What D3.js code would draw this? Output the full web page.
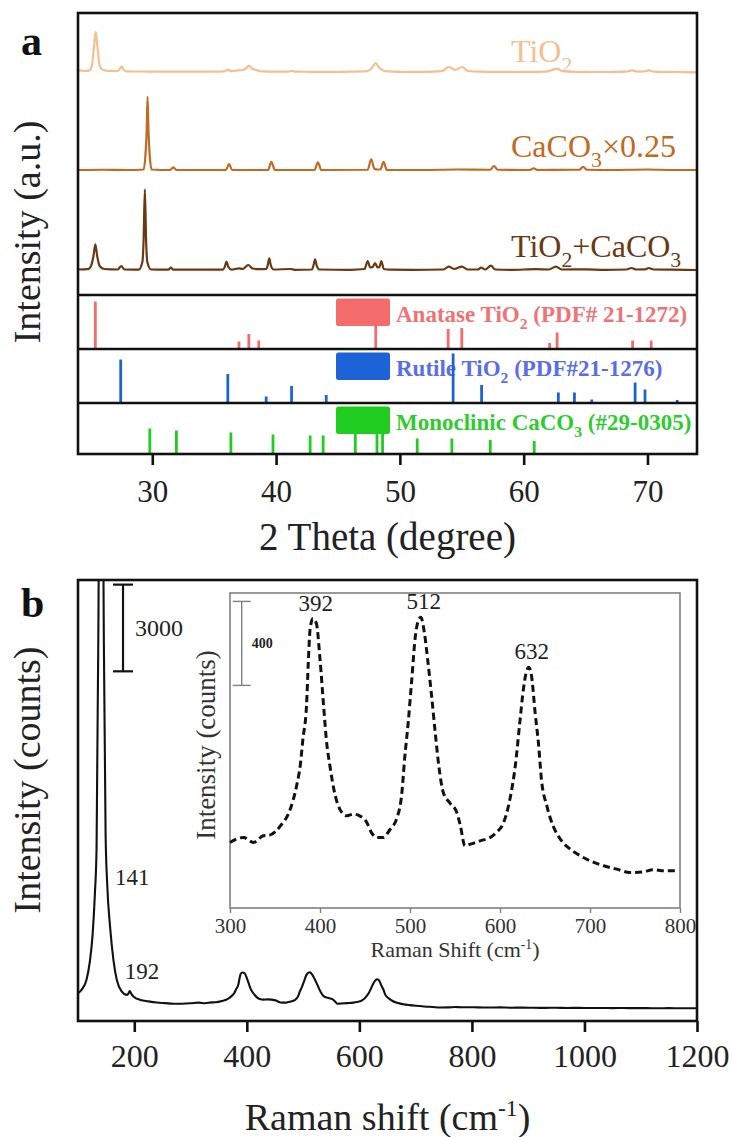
<!DOCTYPE html>
<html>
<head>
<meta charset="utf-8">
<script src="https://cdn.jsdelivr.net/npm/d3@7"></script>
<style>
html,body{margin:0;padding:0;background:#fff}
svg{display:block}
</style>
</head>
<body>
<div id="chart"></div>
<script>
// ---------------- data ----------------
// XRD patterns: [2θ (deg), intensity (a.u.)]
const tio2Pattern = [
  [24.0,1.6],[24.5,1.2],[24.9,1.4],[25.12,6],[25.28,24],[25.43,40],[25.58,24],[25.74,7],[26.0,2.2],[26.5,1.0],
  [27.2,0.9],[27.38,3],[27.52,5.7],[27.66,3],[27.9,0.7],[29,0.5],[31,0.4],[33,0.3],[35,0.3],[35.8,0.6],
  [36.1,2.3],[36.4,0.8],[36.95,1.7],[37.3,1.8],[37.6,4],[37.82,6.3],[38.05,3.5],[38.5,1.7],[38.8,0.6],[40,0.3],
  [41.0,0.4],[41.3,1],[41.6,0.3],[43,0.2],[45,0.2],[47.2,0.6],[47.7,3.5],[48.03,9],[48.35,4],[48.8,0.8],
  [50,0.2],[52,0.1],[53.4,0.8],[53.95,5],[54.45,2.2],[55.03,5],[55.5,1],[56.5,0.3],[58,0.1],[60,0.1],
  [61.8,0.4],[62.1,1.2],[62.7,3.3],[63.1,0.8],[64,0.1],[66,0],[68.3,0.3],[68.75,1.7],[69.2,0.4],[69.7,0.5],
  [70.1,1.7],[70.5,0.3],[72,0],[74,-0.3]
];
const caco3Raw = [
  [24,0],[26,1],[28,0],[29.3,2],[29.45,60],[29.55,160],[29.62,293],[29.69,160],[29.79,60],[29.95,2],
  [31.45,0],[31.7,11],[31.95,0],[35.95,0],[36.2,24],[36.45,0],[39.35,0],[39.62,33],[39.9,0],[43.1,0],
  [43.38,31],[43.65,0],[47.4,1],[47.68,43],[47.95,4],[48.2,2],[48.45,3],[48.68,33],[48.95,0],[52,0],
  [54.5,2],[57.3,1],[57.6,16],[57.9,1],[60.5,0],[60.8,7],[61.1,0],[64.5,1],[64.8,13],[65.1,1],
  [67,0],[70,2],[72,0],[74,0]
];
const caco3Factor = 0.25;
const mixPattern = [
  [24,0.5],[24.8,0.8],[25.05,4],[25.25,14],[25.4,25.7],[25.55,14],[25.75,4],[26.1,1],[27.2,0.5],[27.5,4],
  [27.75,0.5],[28.9,0.3],[29.2,8],[29.3,30],[29.4,80.7],[29.5,30],[29.6,8],[29.9,0.5],[31.3,0.3],[31.5,2.3],
  [31.7,0.3],[35.7,0.3],[35.85,3],[36.0,8.3],[36.15,3],[36.4,0.4],[37.0,1.7],[37.3,1],[37.75,5],[38.1,1.5],
  [38.6,0.8],[39.2,1],[39.33,5],[39.45,11.7],[39.57,5],[39.8,0.5],[41.2,1],[41.5,0.2],[42.9,0.5],[43.02,4.5],
  [43.15,10.7],[43.28,4.5],[43.5,0.5],[46,0.2],[47.15,1],[47.4,9],[47.6,2.5],[47.8,3],[48.0,7],[48.2,2.5],
  [48.35,3],[48.5,9],[48.7,1],[49.2,0.3],[51,0.2],[53.5,0.5],[53.95,3.3],[54.4,1],[55.0,3.3],[55.5,0.5],
  [56.3,0.5],[56.55,2.3],[56.9,0.5],[57.35,4.3],[57.7,0.5],[59,0.2],[61,0.8],[62.0,0.5],[62.6,3.3],[63.1,0.5],
  [65,0.6],[66.5,0.2],[68.3,0.5],[68.7,2],[69.1,0.5],[69.8,0.6],[70.1,2],[70.5,0.5],[72,0.3],[74,0]
];

// standard reference cards: [2θ, relative intensity]
const anataseRef = [[25.4,95],[37.0,15],[37.8,30],[38.6,17],[48.05,70],[53.9,40],[55.0,42],[62.1,12],[62.7,33],[68.8,17],[70.3,17]];
const rutileRef  = [[27.45,87],[36.1,58],[39.2,13],[41.25,34],[44.05,16],[54.3,99],[56.6,36],[62.8,21],[64.1,21],[65.5,7],[69.0,41],[69.8,27],[72.4,6]];
const calciteRef = [[29.8,51],[31.95,47],[36.35,43],[39.75,39],[42.75,37],[43.8,37],[46.4,60],[48.15,60],[48.6,60],[51.4,31],[54.2,31],[57.3,28],[60.85,26]];

const xrdDomain = [24, 74];
const xrdTicks = [30, 40, 50, 60, 70];

// Raman spectrum: [shift (cm-1), counts]
const ramanSpectrum = [
  [100,958],[106,1073],[115,1420],[121,2050],[126,3000],[130,4400],[133,6000],[136,13000],[137.5,18000],[139.5,30000],
  [141,42000],[142.5,30000],[144.5,18000],[146,13000],[149,6500],[152,4700],[157,3260],[163,2110],[169,1420],[178,1014],
  [186,905],[189,930],[192,1038],[195,930],[199,841],[211,727],[225,680],[240,640],[255,618],[270,595],
  [285,598],[300,612],[315,636],[326,612],[337,644],[344,647],[356,691],[367,771],[374,882],[378,977],
  [381,1104],[385,1263],[387,1469],[389,1628],[392,1678],[396,1655],[400,1485],[404,1263],[407,1104],[411,977],
  [417,834],[422,771],[430,739],[437,747],[444,739],[452,707],[457,660],[463,636],[470,636],[478,675],
  [485,723],[491,850],[494,1009],[498,1183],[502,1390],[506,1596],[509,1665],[512,1685],[516,1610],[520,1469],
  [524,1310],[528,1136],[532,977],[537,850],[544,802],[552,755],[556,691],[561,596],[567,604],[578,620],
  [589,636],[596,660],[604,707],[611,818],[617,977],[622,1183],[626,1342],[629,1420],[632,1447],[635,1406],
  [639,1231],[643,1072],[646,914],[652,787],[659,691],[667,628],[678,580],[689,549],[700,525],[715,501],
  [730,485],[744,469],[759,472],[770,482],[782,477],[796,477],[810,470],[830,468],[850,471],[870,460],
  [890,463],[910,458],[930,455],[950,458],[970,452],[990,454],[1010,449],[1030,452],[1050,446],[1070,449],
  [1090,444],[1110,446],[1130,441],[1150,444],[1170,439],[1190,441],[1200,440]
];
const ramanDomain = [100, 1200];
const ramanCountDomain = [0, 15260];
const ramanTicks = [200, 400, 600, 800, 1000, 1200];
const insetDomain = [300, 800];
const insetCountDomain = [300, 1800];
const insetTicks = [300, 400, 500, 600, 700, 800];
const mainPeakLabels = [141, 192];
const insetPeakLabels = [392, 512, 632];
const mainScaleBar = {at: 180, top: 15100, span: 3000};
const insetScaleBar = {at: 313, top: 1760, span: 400};

// ---------------- drawing ----------------
const W = 732, H = 1137;
const FONT = "'Liberation Serif','Times New Roman',serif";

const svg = d3.select("#chart").append("svg")
  .attr("width", W).attr("height", H)
  .attr("font-family", FONT);
svg.append("rect").attr("width", W).attr("height", H).attr("fill", "#fff");

// rich text helper: parts = [{t, sub, sup}]
function richText(g, x, y, parts, size, attrs = {}) {
  const t = g.append("text").attr("x", x).attr("y", y).attr("font-size", size);
  Object.entries(attrs).forEach(([k, v]) => t.attr(k, v));
  let shift = 0;
  parts.forEach(p => {
    const s = t.append("tspan").text(p.t);
    let target = 0;
    if (p.sub) { s.attr("font-size", size * 0.68); target = size * 0.3; }
    if (p.sup) { s.attr("font-size", size * 0.62); target = -size * 0.38; }
    if (target !== shift) { s.attr("dy", target - shift); shift = target; }
  });
  return t;
}

// ===== panel a =====
const A = {left: 78, right: 697, top: 13, specBottom: 295, bandTops: [295, 349, 403], bandBottoms: [349, 403, 454]};
const xX = d3.scaleLinear().domain(xrdDomain).range([A.left, A.right]);
const yX = d3.scaleLinear().domain([0, 282]).range([A.specBottom, A.top]);

const series = [
  {data: tio2Pattern, k: 1, offset: 223, color: "#F3BF93", label: [{t:"TiO"},{t:"2",sub:true}], dyLabel: -10},
  {data: caco3Raw, k: caco3Factor, offset: 125, color: "#C06A22", label: [{t:"CaCO"},{t:"3",sub:true},{t:"×0.25"}], dyLabel: -13},
  {data: mixPattern, k: 1, offset: 25, color: "#6A3912", label: [{t:"TiO"},{t:"2",sub:true},{t:"+CaCO"},{t:"3",sub:true}], dyLabel: -13}
];
const gA = svg.append("g");
const lineX = d3.line().curve(d3.curveMonotoneX);
series.forEach(s => {
  gA.append("path")
    .attr("d", lineX(s.data.map(d => [xX(d[0]), yX(s.offset + d[1] * s.k)])))
    .attr("fill", "none").attr("stroke", s.color).attr("stroke-width", 2.2)
    .attr("stroke-linejoin", "round");
  richText(gA, 511, yX(s.offset) + s.dyLabel, s.label, 32, {fill: s.color});
});

// reference cards
const refs = [
  {data: anataseRef, color: "#F36B6B", text: "#F07272", label: [{t:"Anatase TiO"},{t:"2",sub:true},{t:" (PDF# 21-1272)"}]},
  {data: rutileRef, color: "#1D63D8", text: "#5A6EE6", label: [{t:"Rutile TiO"},{t:"2",sub:true},{t:" (PDF#21-1276)"}]},
  {data: calciteRef, color: "#1FCC1F", text: "#2FCC2F", label: [{t:"Monoclinic CaCO"},{t:"3",sub:true},{t:" (#29-0305)"}]}
];
refs.forEach((r, i) => {
  const bot = A.bandBottoms[i], top = A.bandTops[i];
  const yr = d3.scaleLinear().domain([0, 100]).range([bot, bot - 50]);
  const g = gA.append("g");
  richText(g, 396, top + 27, r.label, 23, {fill: r.text, "font-weight": "bold"});
  g.selectAll("line.stick").data(r.data).join("line")
    .attr("x1", d => xX(d[0])).attr("x2", d => xX(d[0]))
    .attr("y1", bot).attr("y2", d => yr(d[1]))
    .attr("stroke", r.color).attr("stroke-width", 2.8);
  g.append("rect")
    .attr("x", 336).attr("y", top + 3.5).attr("width", 54).attr("height", 27.5)
    .attr("rx", 2.5).attr("fill", r.color);
});

// frames
gA.append("rect").attr("x", A.left).attr("y", A.top)
  .attr("width", A.right - A.left).attr("height", A.bandBottoms[2] - A.top)
  .attr("fill", "none").attr("stroke", "#111").attr("stroke-width", 2.6);
A.bandTops.forEach(y => {
  gA.append("line").attr("x1", A.left).attr("x2", A.right).attr("y1", y).attr("y2", y)
    .attr("stroke", "#111").attr("stroke-width", 2.6);
});

const axA = gA.append("g").attr("transform", `translate(0,${A.bandBottoms[2]})`)
  .call(d3.axisBottom(xX).tickValues(xrdTicks).tickSize(11).tickFormat(d3.format("d")));
axA.select(".domain").remove();
axA.selectAll(".tick line").attr("stroke", "#111").attr("stroke-width", 2.6);
axA.selectAll(".tick text").attr("y", 47.5).attr("dy", null)
  .attr("font-size", 31).attr("font-family", FONT).attr("fill", "#222");

gA.append("text").attr("x", (A.left + A.right) / 2).attr("y", 550)
  .attr("text-anchor", "middle").attr("font-size", 39).attr("fill", "#222")
  .text("2 Theta (degree)");
gA.append("text").attr("transform", "translate(40,232) rotate(-90)")
  .attr("text-anchor", "middle").attr("font-size", 38).attr("fill", "#222")
  .text("Intensity (a.u.)");
gA.append("text").attr("x", 21).attr("y", 55).attr("font-size", 42)
  .attr("font-weight", "bold").attr("fill", "#111").text("a");

// ===== panel b =====
const B = {left: 78, right: 697, top: 580, bottom: 1021};
const xR = d3.scaleLinear().domain(ramanDomain).range([B.left, B.right]);
const yR = d3.scaleLinear().domain(ramanCountDomain).range([B.bottom, B.top]);
const gB = svg.append("g");

gB.append("clipPath").attr("id", "clipB").append("rect")
  .attr("x", B.left).attr("y", B.top).attr("width", B.right - B.left).attr("height", B.bottom - B.top);

const lineR = d3.line().curve(d3.curveMonotoneX);
gB.append("path").attr("clip-path", "url(#clipB)")
  .attr("d", lineR(ramanSpectrum.map(d => [xR(d[0]), yR(d[1])])))
  .attr("fill", "none").attr("stroke", "#111").attr("stroke-width", 2.1).attr("stroke-linejoin", "round");

gB.append("rect").attr("x", B.left).attr("y", B.top)
  .attr("width", B.right - B.left).attr("height", B.bottom - B.top)
  .attr("fill", "none").attr("stroke", "#111").attr("stroke-width", 2.6);

const axB = gB.append("g").attr("transform", `translate(0,${B.bottom})`)
  .call(d3.axisBottom(xR).tickValues(ramanTicks).tickSize(11).tickFormat(d3.format("d")));
axB.select(".domain").remove();
axB.selectAll(".tick line").attr("stroke", "#111").attr("stroke-width", 2.6);
axB.selectAll(".tick text").attr("y", 45.5).attr("dy", null)
  .attr("font-size", 32).attr("font-family", FONT).attr("fill", "#222");

richText(gB, (B.left + B.right) / 2, 1130,
  [{t:"Raman shift (cm"},{t:"-1",sup:true},{t:")"}], 38, {"text-anchor": "middle", fill: "#222"});
gB.append("text").attr("transform", "translate(40,780) rotate(-90)")
  .attr("text-anchor", "middle").attr("font-size", 38).attr("fill", "#222")
  .text("Intensity (counts)");
gB.append("text").attr("x", 21).attr("y", 617).attr("font-size", 42)
  .attr("font-weight", "bold").attr("fill", "#111").text("b");

// main scale bar
{
  const bx = xR(mainScaleBar.at), y1 = yR(mainScaleBar.top), y2 = yR(mainScaleBar.top - mainScaleBar.span);
  const g = gB.append("g").attr("stroke", "#111").attr("stroke-width", 2.2);
  g.append("line").attr("x1", bx).attr("x2", bx).attr("y1", y1).attr("y2", y2);
  g.append("line").attr("x1", bx - 10).attr("x2", bx + 10).attr("y1", y1).attr("y2", y1);
  g.append("line").attr("x1", bx - 10).attr("x2", bx + 10).attr("y1", y2).attr("y2", y2);
  gB.append("text").attr("x", bx + 12).attr("y", (y1 + y2) / 2 + 8).attr("font-size", 24)
    .attr("fill", "#222").text(String(mainScaleBar.span));
}

// main peak labels
const valAt = s => ramanSpectrum.find(d => d[0] === s)[1];
gB.append("text").attr("x", xR(mainPeakLabels[0]) + 14).attr("y", 885)
  .attr("font-size", 23).attr("fill", "#222").text(mainPeakLabels[0]);
gB.append("text").attr("x", xR(mainPeakLabels[1]) - 5).attr("y", yR(valAt(mainPeakLabels[1])) - 12)
  .attr("font-size", 23).attr("fill", "#222").text(mainPeakLabels[1]);

// ----- inset -----
const I = {left: 230, right: 680, top: 593, bottom: 908};
const xI = d3.scaleLinear().domain(insetDomain).range([I.left, I.right]);
const yI = d3.scaleLinear().domain(insetCountDomain).range([I.bottom, I.top]);
const gI = gB.append("g");
gI.append("rect").attr("x", I.left).attr("y", I.top)
  .attr("width", I.right - I.left).attr("height", I.bottom - I.top)
  .attr("fill", "#fff").attr("stroke", "#808080").attr("stroke-width", 1.6);

const insetData = ramanSpectrum.filter(d => d[0] >= insetDomain[0] && d[0] <= insetDomain[1]);
gI.append("path")
  .attr("d", lineR(insetData.map(d => [xI(d[0]), yI(d[1])])))
  .attr("fill", "none").attr("stroke", "#111").attr("stroke-width", 3)
  .attr("stroke-dasharray", "7,4");

const axI = gI.append("g").attr("transform", `translate(0,${I.bottom})`)
  .call(d3.axisBottom(xI).tickValues(insetTicks).tickSize(5).tickFormat(d3.format("d")));
axI.select(".domain").remove();
axI.selectAll(".tick line").attr("stroke", "#808080").attr("stroke-width", 1.4);
axI.selectAll(".tick text").attr("y", 25).attr("dy", null)
  .attr("font-size", 21).attr("font-family", FONT).attr("fill", "#333");

richText(gI, (I.left + I.right) / 2, 957,
  [{t:"Raman Shift (cm"},{t:"-1",sup:true},{t:")"}], 22, {"text-anchor": "middle", fill: "#333"});
gI.append("text").attr("transform", "translate(215,745) rotate(-90)")
  .attr("text-anchor", "middle").attr("font-size", 27).attr("fill", "#333")
  .text("Intensity (counts)");

// inset scale bar
{
  const bx = xI(insetScaleBar.at), y1 = yI(insetScaleBar.top), y2 = yI(insetScaleBar.top - insetScaleBar.span);
  const g = gI.append("g").attr("stroke", "#808080").attr("stroke-width", 1.4);
  g.append("line").attr("x1", bx).attr("x2", bx).attr("y1", y1).attr("y2", y2);
  g.append("line").attr("x1", bx - 9).attr("x2", bx + 9).attr("y1", y1).attr("y2", y1);
  g.append("line").attr("x1", bx - 9).attr("x2", bx + 9).attr("y1", y2).attr("y2", y2);
  gI.append("text").attr("x", bx + 10).attr("y", (y1 + y2) / 2 + 5).attr("font-size", 14)
    .attr("font-weight", "bold").attr("fill", "#222").text(String(insetScaleBar.span));
}

// inset peak labels
insetPeakLabels.forEach(p => {
  gI.append("text").attr("x", xI(p) + 3).attr("y", yI(valAt(p)) - 8)
    .attr("text-anchor", "middle").attr("font-size", 23).attr("fill", "#222").text(p);
});
</script>
</body>
</html>
